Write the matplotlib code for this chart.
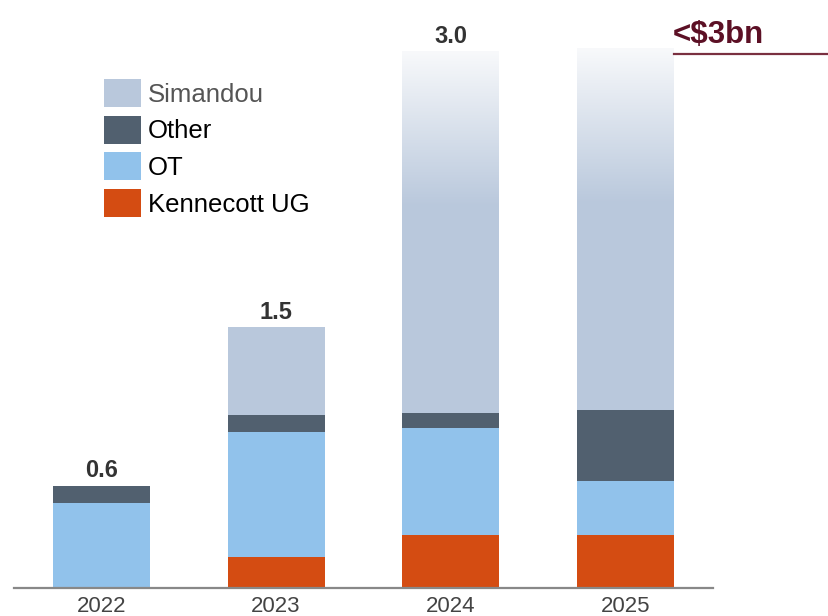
import matplotlib
matplotlib.use("Agg")
import matplotlib.pyplot as plt
import numpy as np
from matplotlib.colors import to_rgb

plt.rcParams['font.family'] = ['Liberation Sans', 'DejaVu Sans']

# capex by project, $bn
years = ["2022", "2023", "2024", "2025"]
kennecott = [0.0, 0.175, 0.30, 0.30]
ot = [0.48, 0.70, 0.60, 0.30]
other = [0.095, 0.10, 0.085, 0.40]
simandou = [0.0, 0.49, 2.03, 2.03]
total_labels = ["0.6", "1.5", "3.0", ""]
guidance = "<$3bn"
faded = [False, False, True, True]   # Simandou bars fading out at the top

c_sim = '#b9c8dc'
c_other = '#51606f'
c_ot = '#91c2eb'
c_kug = '#d44c12'

fig = plt.figure(figsize=(8.29, 6.16), dpi=100)
ax = fig.add_axes([14 / 829, 28 / 616, (713 - 14) / 829, 587 / 616])

x = np.arange(len(years))
w = 0.555
k = np.array(kennecott)
o = np.array(ot)
ot_b = k
oth_b = k + o
sim_b = oth_b + np.array(other)
totals = sim_b + np.array(simandou)

b_kug = ax.bar(x, kennecott, w, color=c_kug, label='Kennecott UG', zorder=2)
b_ot = ax.bar(x, ot, w, bottom=ot_b, color=c_ot, label='OT', zorder=2)
b_oth = ax.bar(x, other, w, bottom=oth_b, color=c_other, label='Other', zorder=2)
b_sim = ax.bar(x, simandou, w, bottom=sim_b, color=c_sim, label='Simandou', zorder=2)

# gradient to white on the top part of the big Simandou bars
lo = np.array(to_rgb(c_sim))
hi = np.array(to_rgb('#f8f9fb'))
t = np.linspace(0, 1, 256)[:, None]
grad = (lo * (1 - t) + hi * t)[:, None, :]
for patch, f in zip(b_sim.patches, faded):
    if not f:
        continue
    x0 = patch.get_x()
    y0 = patch.get_y()
    h = patch.get_height()
    ax.imshow(grad, extent=(x0, x0 + patch.get_width(), y0 + h * 0.57, y0 + h),
              origin='lower', aspect='auto', zorder=3, interpolation='bilinear')

for xi, tot, lbl in zip(x, totals, total_labels):
    if lbl:
        ax.annotate(lbl, (xi, tot), xytext=(0, 2.5), textcoords='offset points',
                    ha='center', va='bottom', fontsize=17, fontweight='bold',
                    color='#333333')

# guidance marker for 2025
ax.plot([x[-1] + w / 2, 4.3], [3.0, 3.0], color='#7a3040', lw=1.6,
        clip_on=False, zorder=4)
ax.annotate(guidance, (x[-1] + w / 2, 3.0), xytext=(-1, 8.5),
            textcoords='offset points', ha='left', va='baseline',
            fontsize=22.5, fontweight='bold', color='#5c1025',
            annotation_clip=False)

ax.set_xlim(-0.5, 3.5)
ax.set_ylim(0, 3.3)
ax.set_xticks(x)
ax.set_xticklabels(years)
ax.tick_params(axis='x', length=0, pad=6, labelsize=16, labelcolor='#444444')
ax.set_yticks([])
for s in ['top', 'right', 'left']:
    ax.spines[s].set_visible(False)
ax.spines['bottom'].set_color('#888888')
ax.spines['bottom'].set_linewidth(1.6)
ax.spines['bottom'].set_zorder(5)

handles = [b_sim, b_oth, b_ot, b_kug]
leg = ax.legend(handles, [h.get_label() for h in handles],
                loc='upper left', bbox_to_anchor=(104 / 829, 1 - 79 / 616),
                bbox_transform=fig.transFigure, frameon=False, fontsize=18.5,
                handlelength=1.44, handleheight=1.3, labelspacing=0.34,
                handletextpad=0.27, borderpad=0, borderaxespad=0)
leg.get_texts()[0].set_color('#555555')

fig.savefig('out.png', dpi=100)
